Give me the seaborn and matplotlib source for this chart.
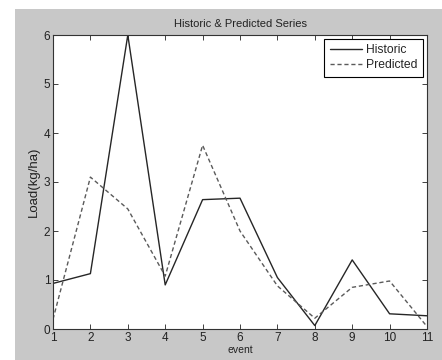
import matplotlib
matplotlib.use("Agg")
import matplotlib.pyplot as plt
import pandas as pd
import seaborn as sns
from matplotlib.patches import Rectangle

events = [1, 2, 3, 4, 5, 6, 7, 8, 9, 10, 11]
historic = [0.93, 1.13, 6.0, 0.9, 2.64, 2.67, 1.05, 0.07, 1.41, 0.31, 0.27]
predicted = [0.2, 3.1, 2.45, 1.08, 3.75, 2.0, 0.88, 0.22, 0.85, 0.98, 0.05]

sns.set_style("ticks")
plt.rcParams["font.family"] = ["Liberation Sans", "DejaVu Sans"]

fig = plt.figure(figsize=(4.42, 3.60), dpi=100, facecolor="white")
# matlab-style grey figure panel
fig.patches.append(Rectangle((15 / 442, 0), 1, 1 - 9 / 360, transform=fig.transFigure,
                             facecolor="#c8c8c8", edgecolor="none", zorder=-5))
ax = fig.add_axes([53 / 442, 31 / 360, 374 / 442, 294 / 360])
ax.set_zorder(2)
ax.set_facecolor("white")

sns.lineplot(x=events, y=historic, ax=ax, color="#262626", lw=1.0, label="Historic")
sns.lineplot(x=events, y=predicted, ax=ax, color="#5a5a5a", lw=1.0, linestyle=(0, (3, 2)),
             label="Predicted")

ax.set_xlim(1, 11)
ax.set_ylim(0, 6)
ax.set_xticks(events)
ax.set_yticks(range(0, 7))
ax.tick_params(direction="in", top=True, right=True, length=3.5, width=0.6,
               labelsize=8.5, colors="#222222", pad=2)
for s in ax.spines.values():
    s.set_visible(True)
    s.set_color("#333333")
    s.set_linewidth(0.8)

ax.set_title("Historic & Predicted Series", fontsize=8, color="#222222", pad=6)
ax.set_xlabel("event", fontsize=7.5, color="#222222", labelpad=1)
ax.set_ylabel("Load(kg/ha)", fontsize=9.5, color="#222222", labelpad=3)

leg = ax.legend(loc="upper right", fontsize=8.7, frameon=True, fancybox=False,
                edgecolor="black", framealpha=1, handlelength=2.7, handletextpad=0.35,
                borderpad=0.45, labelspacing=0.25, borderaxespad=0.3)
leg.get_frame().set_linewidth(0.8)

fig.savefig("out.png", dpi=100)
